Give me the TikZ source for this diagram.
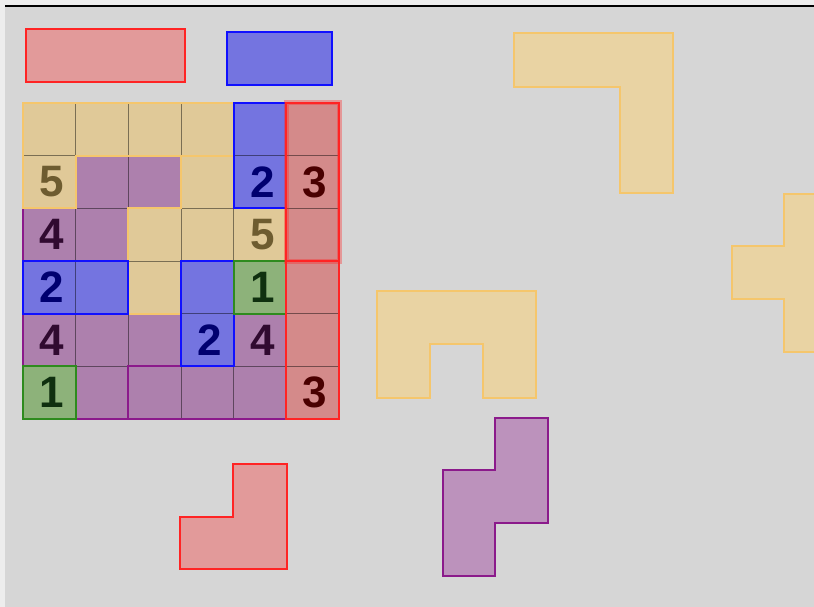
\documentclass[tikz,border=0pt]{standalone}
\usepackage{fontspec}
\newfontfamily\digitfont{Liberation Sans}
\definecolor{bggrey}{HTML}{D6D6D6}
\definecolor{yelfill}{HTML}{E0C998}
\definecolor{yelloose}{HTML}{E9D3A3}
\definecolor{yelline}{HTML}{F5C66C}
\definecolor{yeltext}{HTML}{6E5C30}
\definecolor{redfill}{HTML}{D48A8A}
\definecolor{redloose}{HTML}{E29A9A}
\definecolor{redline}{HTML}{FF2424}
\definecolor{redtext}{HTML}{4A0000}
\definecolor{bluefill}{HTML}{7474E0}
\definecolor{blueline}{HTML}{1010FF}
\definecolor{bluetext}{HTML}{000070}
\definecolor{purpfill}{HTML}{AD80AD}
\definecolor{purploose}{HTML}{BC92BC}
\definecolor{purpline}{HTML}{8B1A8B}
\definecolor{purptext}{HTML}{300A30}
\definecolor{greenfill}{HTML}{8DB27A}
\definecolor{greenline}{HTML}{2E8B1E}
\definecolor{greentext}{HTML}{0F300F}
\tikzset{
	piece/.style={line width=2pt, line join=miter},
	cellline/.style={black, opacity=0.45, line width=0.8pt},
	cellnum/.style={font=\digitfont\bfseries\fontsize{44}{44}\selectfont, inner sep=0pt, xshift=2.5pt},
}
\begin{document}
\begin{tikzpicture}[x=1pt, y=-1pt]
	\useasboundingbox (0, 0) rectangle (814, 607);
	\clip (0, 0) rectangle (814, 607);
	% Board frame:
	\fill[white!93!black] (0, 0) rectangle (814, 607);
	\fill[bggrey] (5, 7) rectangle (814, 607);
	\draw[line width=1.5pt] (5, 6) -- (814, 6);
	% Loose pieces:
	\draw[piece, fill=redloose, draw=redline] (26, 29) rectangle (185, 82);
	\draw[piece, fill=bluefill, draw=blueline] (227, 32) rectangle (332, 85);
	\draw[piece, fill=yelloose, draw=yelline] (514, 33) -- (673, 33) -- (673, 193) -- (620, 193) -- (620, 87) -- (514, 87) -- cycle;
	\draw[piece, fill=yelloose, draw=yelline] (784, 194) -- (840, 194) -- (840, 352) -- (784, 352) -- (784, 299) -- (732, 299) -- (732, 246) -- (784, 246) -- cycle;
	\draw[piece, fill=yelloose, draw=yelline] (377, 291) -- (536, 291) -- (536, 398) -- (483, 398) -- (483, 344) -- (430, 344) -- (430, 398) -- (377, 398) -- cycle;
	\draw[piece, fill=purploose, draw=purpline] (495, 418) -- (548, 418) -- (548, 523) -- (495, 523) -- (495, 576) -- (443, 576) -- (443, 470) -- (495, 470) -- cycle;
	\draw[piece, fill=redloose, draw=redline] (233, 464) -- (287, 464) -- (287, 569) -- (180, 569) -- (180, 517) -- (233, 517) -- cycle;
	% Placed pieces, one unit per cell:
	\begin{scope}[xshift=23pt, yshift=-103pt, x=52.67pt, y=-52.67pt]
		\fill[yelfill] (0, 0) -- (4, 0) -- (4, 1) -- (1, 1) -- (1, 2) -- (0, 2) -- cycle;
		\fill[yelfill] (3, 1) -- (4, 1) -- (4, 2) -- (5, 2) -- (5, 3) -- (3, 3) -- (3, 4) -- (2, 4) -- (2, 2) -- (3, 2) -- cycle;
		\fill[purpfill] (1, 1) -- (3, 1) -- (3, 2) -- (2, 2) -- (2, 3) -- (0, 3) -- (0, 2) -- (1, 2) -- cycle;
		\fill[purpfill] (0, 4) -- (3, 4) -- (3, 5) -- (2, 5) -- (2, 6) -- (1, 6) -- (1, 5) -- (0, 5) -- cycle;
		\fill[purpfill] (4, 4) -- (5, 4) -- (5, 6) -- (2, 6) -- (2, 5) -- (4, 5) -- cycle;
		\fill[bluefill] (4, 0) rectangle (5, 2);
		\fill[bluefill] (0, 3) rectangle (2, 4);
		\fill[bluefill] (3, 3) rectangle (4, 5);
		\fill[greenfill] (4, 3) rectangle (5, 4);
		\fill[greenfill] (0, 5) rectangle (1, 6);
		\fill[redfill] (5, 0) rectangle (6, 6);
		\foreach \k in {1, ..., 5}
			\draw[cellline] (0, \k) -- (6, \k) (\k, 0) -- (\k, 6);
		\draw[piece, purpline] (1, 1) -- (3, 1) -- (3, 2) -- (2, 2) -- (2, 3) -- (0, 3) -- (0, 2) -- (1, 2) -- cycle;
		\draw[piece, purpline] (0, 4) -- (3, 4) -- (3, 5) -- (2, 5) -- (2, 6) -- (1, 6) -- (1, 5) -- (0, 5) -- cycle;
		\draw[piece, purpline] (4, 4) -- (5, 4) -- (5, 6) -- (2, 6) -- (2, 5) -- (4, 5) -- cycle;
		\draw[piece, yelline] (0, 0) -- (4, 0) -- (4, 1) -- (1, 1) -- (1, 2) -- (0, 2) -- cycle;
		\draw[piece, yelline] (3, 1) -- (4, 1) -- (4, 2) -- (5, 2) -- (5, 3) -- (3, 3) -- (3, 4) -- (2, 4) -- (2, 2) -- (3, 2) -- cycle;
		\draw[piece, blueline] (4, 0) rectangle (5, 2);
		\draw[piece, blueline] (0, 3) rectangle (2, 4);
		\draw[piece, blueline] (3, 3) rectangle (4, 5);
		\draw[piece, greenline] (4, 3) rectangle (5, 4);
		\draw[piece, greenline] (0, 5) rectangle (1, 6);
		\draw[piece, redline] (5, 3) rectangle (6, 6);
		\draw[redline, opacity=0.35, line width=5pt] (5, 0) rectangle (6, 3);
		\draw[piece, redline] (5, 0) rectangle (6, 3);
		% Clues:
		\node[cellnum, text=yeltext] (c5a) at (0.5, 1.5) {5};
		\node[cellnum, text=bluetext] (c2a) at (4.5, 1.5) {2};
		\node[cellnum, text=redtext] (c3a) at (5.5, 1.5) {3};
		\node[cellnum, text=purptext] (c4a) at (0.5, 2.5) {4};
		\node[cellnum, text=yeltext] (c5b) at (4.5, 2.5) {5};
		\node[cellnum, text=bluetext] (c2b) at (0.5, 3.5) {2};
		\node[cellnum, text=greentext] (c1a) at (4.5, 3.5) {1};
		\node[cellnum, text=purptext] (c4b) at (0.5, 4.5) {4};
		\node[cellnum, text=bluetext] (c2c) at (3.5, 4.5) {2};
		\node[cellnum, text=purptext] (c4c) at (4.5, 4.5) {4};
		\node[cellnum, text=greentext] (c1b) at (0.5, 5.5) {1};
		\node[cellnum, text=redtext] (c3b) at (5.5, 5.5) {3};
	\end{scope}
\end{tikzpicture}
\end{document}
